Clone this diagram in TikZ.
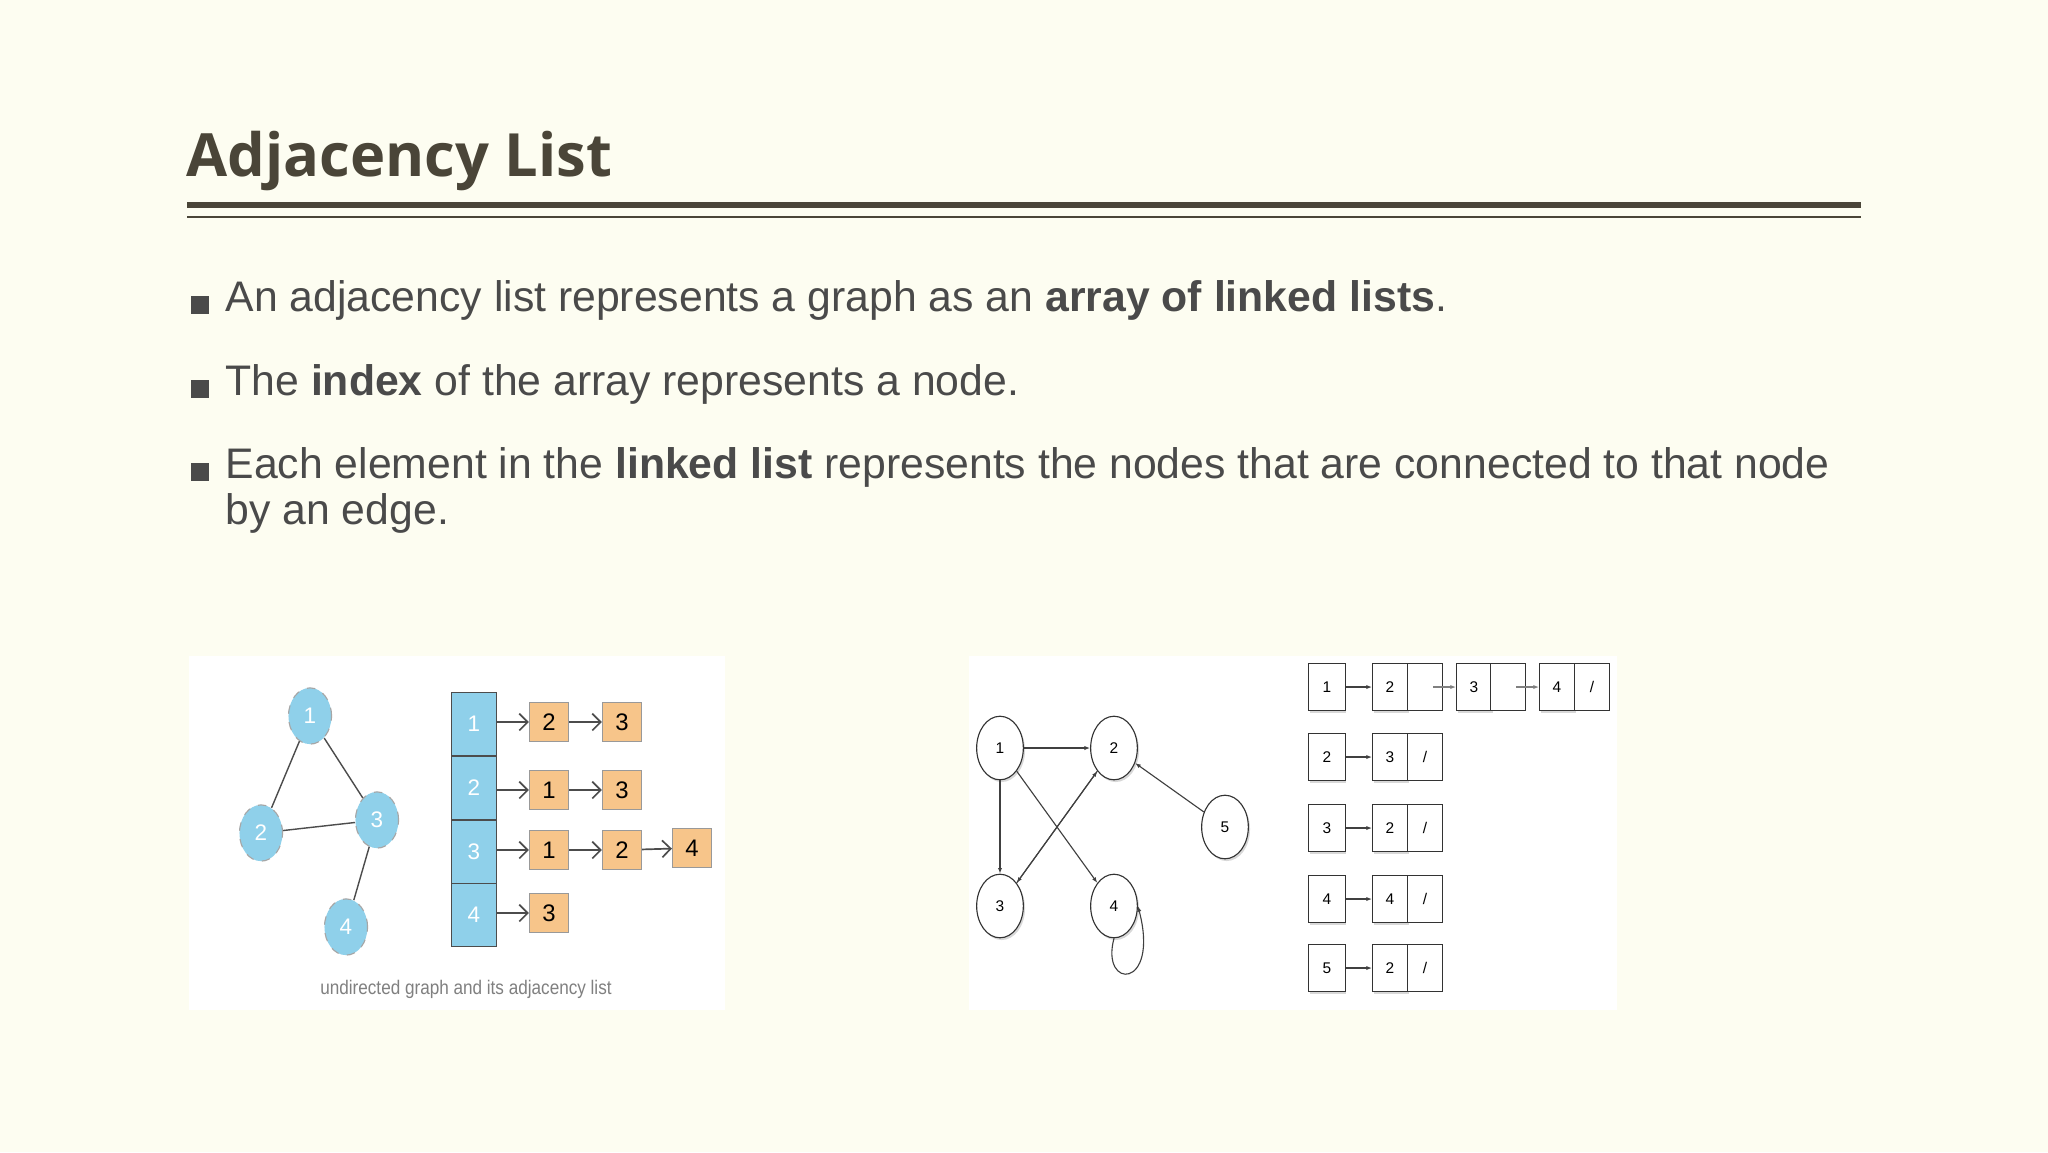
\documentclass[tikz,border=0pt]{standalone}
\usepackage{fontspec}
\setmainfont{Liberation Sans}
\newfontfamily\titlefont{Open Sans}
\usetikzlibrary{arrows.meta,shapes.geometric,shadows}
\definecolor{bg}{HTML}{FDFDF1}
\definecolor{ttl}{HTML}{4A4538}
\definecolor{body}{HTML}{4A4A4A}
\definecolor{bluef}{HTML}{8FD0EA}
\definecolor{orf}{HTML}{F7C58A}
\tikzset{
  gnode/.style={ellipse,draw=gray!70,dashed,fill=bluef,minimum width=15.3pt,minimum height=20pt,inner sep=0pt,text=white,font=\fontsize{8}{8}\selectfont},
  acell/.style={draw=black!70,fill=bluef,minimum width=16pt,minimum height=22.6pt,inner sep=0pt,text=white,font=\fontsize{8}{8}\selectfont},
  obox/.style={draw=gray!80,fill=orf,minimum width=13.9pt,minimum height=13.9pt,inner sep=0pt,font=\fontsize{8.5}{8.5}\selectfont},
  wnode/.style={ellipse,draw=black!80,fill=white,minimum width=16.6pt,minimum height=22.6pt,inner sep=0pt,font=\fontsize{5.5}{5.5}\selectfont,drop shadow={shadow xshift=0.6pt,shadow yshift=-0.8pt,fill=black!30}},
  kbox/.style={draw=black!80,fill=white,minimum width=13pt,minimum height=17pt,inner sep=0pt,font=\fontsize{5.5}{5.5}\selectfont},
  hbox/.style={draw=black!80,fill=white,minimum width=12.4pt,minimum height=17pt,inner sep=0pt,font=\fontsize{5.5}{5.5}\selectfont},
  shd/.style={drop shadow={shadow xshift=0.4pt,shadow yshift=-0.9pt,fill=black!30}},
  oarr/.style={-{Straight Barb[length=3pt]},draw=black!70,line width=0.6pt},
  warr/.style={-{Latex[length=2pt]},draw=black!75,line width=0.4pt},
  btxt/.style={anchor=west,text=body,font=\fontsize{15.2}{18}\selectfont,inner sep=0pt},
  bul/.style={fill=body,minimum size=6.3pt,inner sep=0pt}
}
\begin{document}
\begin{tikzpicture}[x=0.0125cm,y=0.0125cm]
\fill[bg] (0,0) rectangle (2048,-1152);
\useasboundingbox (0,0) rectangle (2048,-1152);
\node[anchor=base west,inner sep=0pt,text=ttl,font=\titlefont\bfseries\fontsize{21.2}{24}\selectfont] (title) at (186,-176) {Adjacency List};
\draw[ttl,line width=2.3pt] (187,-205) -- (1861,-205);
\draw[ttl,line width=0.7pt] (187,-217) -- (1861,-217);
% bullets
\node[bul] (b1) at (200,-305) {};
\node[btxt] (t1) at (225,-300) {An adjacency list represents a graph as an \textbf{array of linked lists}.};
\node[bul] (b2) at (200,-389) {};
\node[btxt] (t2) at (225,-384) {The \textbf{index} of the array represents a node.};
\node[bul] (b3) at (200,-472) {};
\node[btxt] (t3) at (225,-467) {Each element in the \textbf{linked list} represents the nodes that are connected to that node};
\node[btxt] (t4) at (225,-513) {by an edge.};
% left image
\fill[white] (189,-656) rectangle (725,-1010);
\node[gnode] (n1) at (310,-716) {1};
\node[gnode] (n2) at (261,-833) {2};
\node[gnode] (n3) at (377,-820) {3};
\node[gnode] (n4) at (346,-927) {4};
\draw[black!70,line width=0.5pt] (n1)--(n2) (n1)--(n3) (n2)--(n3) (n3)--(n4);
\node[acell] (a1) at (474,-724) {1};
\node[acell] (a2) at (474,-788) {2};
\node[acell] (a3) at (474,-852) {3};
\node[acell] (a4) at (474,-915) {4};
\node[obox] (o11) at (549,-722) {2};
\node[obox] (o12) at (622,-722) {3};
\node[obox] (o21) at (549,-790) {1};
\node[obox] (o22) at (622,-790) {3};
\node[obox] (o31) at (549,-850) {1};
\node[obox] (o32) at (622,-850) {2};
\node[obox] (o33) at (692,-848) {4};
\node[obox] (o41) at (549,-913) {3};
\draw[oarr] (a1.east|-o11) -- (o11);
\draw[oarr] (o11) -- (o12);
\draw[oarr] (a2.east|-o21) -- (o21);
\draw[oarr] (o21) -- (o22);
\draw[oarr] (a3.east|-o31) -- (o31);
\draw[oarr] (o31) -- (o32);
\draw[oarr] (o32) -- (o33);
\draw[oarr] (a4.east|-o41) -- (o41);
\node[text=gray,font=\fontsize{7}{7}\selectfont,xscale=0.87] (cap) at (466,-989) {undirected graph and its adjacency list};
% right image
\fill[white] (969,-656) rectangle (1617,-1010);
\node[wnode] (w1) at (1000,-748) {1};
\node[wnode] (w2) at (1114,-748) {2};
\node[wnode] (w3) at (1000,-906) {3};
\node[wnode] (w4) at (1114,-906) {4};
\node[wnode] (w5) at (1225,-827) {5};
\draw[warr] (w1) -- (w2);
\draw[warr] (w1) -- (w3);
\draw[warr] (w1) -- (w4);
\draw[warr] (w3) -- (w2);
\draw[warr] (w2) -- (w3);
\draw[warr] (w5) -- (w2);
\draw[warr] (w4.south) .. controls (1100,-990) and (1160,-990) .. (w4.east);
\foreach \r/\y/\v in {1/687/2,2/757/3,3/828/2,4/899/4,5/968/2}{
  \node[kbox,shd] (k\r) at (1327,-\y) {\r};
  \node[hbox,shd] (h\r a) at (1390,-\y) {\v};
  \node[hbox] (h\r b) at (1425,-\y) {\ifnum\r=1 \else /\fi};
  \draw[warr] (k\r) -- (h\r a);
}
\node[hbox,shd] (h1c) at (1474,-687) {3};
\node[hbox] (h1d) at (1508,-687) {};
\node[hbox,shd] (h1e) at (1557,-687) {4};
\node[hbox] (h1f) at (1592,-687) {/};
\coordinate (p1) at ([xshift=3pt]h1b.center);
\coordinate (p2) at ([xshift=3pt]h1d.center);
\draw[warr,black!50] (p1) -- (h1c.west);
\draw[warr,black!50] (p2) -- (h1e.west);
\end{tikzpicture}
\end{document}
